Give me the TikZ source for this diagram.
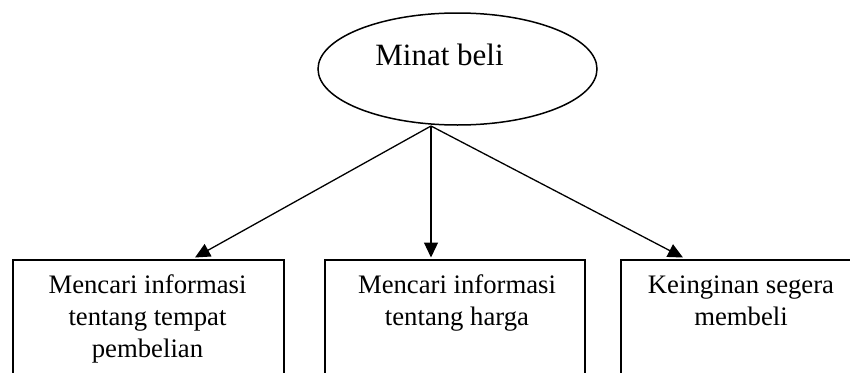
\documentclass[tikz,border=0pt]{standalone}
\usepackage{fontspec}
\setmainfont{Liberation Serif}
\usetikzlibrary{shapes.geometric,arrows.meta}
\tikzset{
  boxshape/.style={draw, line width=1.5pt, rectangle, inner sep=0pt},
  ovalshape/.style={draw, line width=1.5pt, ellipse, inner sep=0pt},
  arr/.style={line width=1.3pt, -{Triangle[length=15pt,width=14pt]}},
  boxtext/.style={anchor=base, inner sep=0pt, font=\fontsize{26.7}{32}\selectfont},
  titletext/.style={anchor=base, inner sep=0pt, font=\fontsize{31}{37}\selectfont}
}
\begin{document}
\begin{tikzpicture}[x=1pt,y=-1pt]
\useasboundingbox (0,0) rectangle (850,372);
\clip (0,0) rectangle (850,372);
\fill[white] (0,0) rectangle (850,372);
% top ellipse
\node[ovalshape, minimum width=279pt, minimum height=112pt] (minat) at (457.5,69) {};
\node[titletext] (minatT) at (439.5,65) {Minat beli};
% boxes
\node[boxshape, anchor=north west, minimum width=271pt, minimum height=150pt] (b1) at (12,259) {};
\node[boxshape, anchor=north west, minimum width=260pt, minimum height=150pt] (b2) at (324,259) {};
\node[boxshape, anchor=north west, minimum width=242pt, minimum height=150pt] (b3) at (620,259) {};
% texts
\node[boxtext] (t1) at (147.5,293) {\begin{tabular}[t]{@{}c@{}}Mencari informasi\\ tentang tempat\\ pembelian\end{tabular}};
\node[boxtext] (t2) at (457,293) {\begin{tabular}[t]{@{}c@{}}Mencari informasi\\ tentang harga\end{tabular}};
\node[boxtext] (t3) at (741,293) {\begin{tabular}[t]{@{}c@{}}Keinginan segera\\ membeli\end{tabular}};
% connectors
\coordinate (o) at (431,126);
\coordinate (e1) at (195,257.5);
\coordinate (e2) at (431,257.5);
\coordinate (e3) at (683,257.5);
\draw[arr] (o) -- (e1);
\draw[arr] (o) -- (e2);
\draw[arr] (o) -- (e3);
\end{tikzpicture}
\end{document}
